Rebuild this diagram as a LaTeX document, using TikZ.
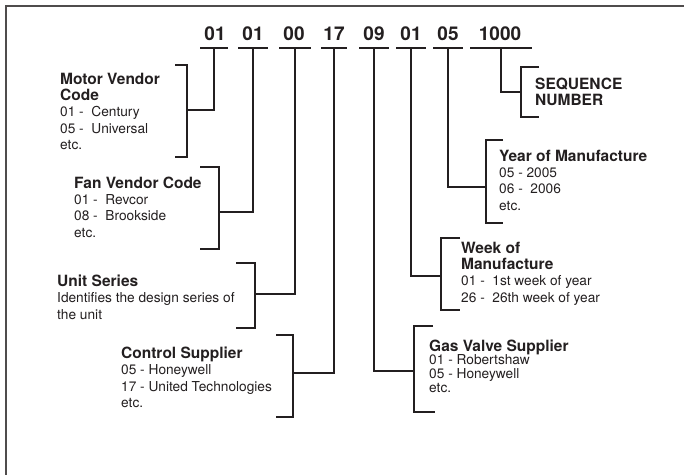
\documentclass[tikz,border=0pt]{standalone}
\usepackage{fontspec}
\setmainfont{TeX Gyre Heros}
\usepackage{tikz}
\definecolor{ink}{RGB}{35,31,32}
\newcommand{\headfont}{\bfseries\fontsize{15.5}{18.5}\selectfont}
\newcommand{\bodyfont}{\mdseries\fontsize{13.7}{16.4}\selectfont}

\begin{document}
\begin{tikzpicture}[x=1pt, y=-1pt,
  rule/.style={draw=ink, line width=1.8pt},
  digits/.style={anchor=base, inner sep=0pt, text=ink, font=\bfseries\fontsize{19}{20}\selectfont},
  lbl/.style={anchor=north west, inner sep=0pt, align=left, text=ink, font=\bodyfont}]
\useasboundingbox (0,0) rectangle (684,475);
\draw[ink!80, line width=1.6pt] (684,6) -- (6,6) -- (6,475);

\node[digits] (c1) at (215,40) {01};
\node[digits] (c2) at (253,40) {01};
\node[digits] (c3) at (294,40) {00};
\node[digits] (c4) at (334,40) {17};
\node[digits] (c5) at (374,40) {09};
\node[digits] (c6) at (411,40) {01};
\node[digits] (c7) at (448,40) {05};
\node[digits] (c8) at (500,40) {1000};

\coordinate (u1) at (214,48);
\coordinate (u2) at (253,48);
\coordinate (u3) at (295,48);
\coordinate (u4) at (334,48);
\coordinate (u5) at (374,48);
\coordinate (u6) at (411,48);
\coordinate (u7) at (448,48);
\coordinate (u8) at (501,48);

\draw[rule] (u1) ++(-14,0) -- ++(28,0);
\draw[rule] (u2) ++(-15,0) -- ++(30,0);
\draw[rule] (u3) ++(-16,0) -- ++(32,0);
\draw[rule] (u4) ++(-13,0) -- ++(26,0);
\draw[rule] (u5) ++(-15,0) -- ++(30,0);
\draw[rule] (u6) ++(-15,0) -- ++(30,0);
\draw[rule] (u7) ++(-15,0) -- ++(30,0);
\draw[rule] (u8) ++(-31,0) -- ++(62,0);

\coordinate (b1) at (187,110);
\coordinate (b2) at (219,212);
\coordinate (b3) at (255,294);
\coordinate (b4) at (293,373);
\coordinate (b5) at (414,371);
\coordinate (b6) at (441,276);
\coordinate (b7) at (486,187);
\coordinate (b8) at (521,92);

\draw[rule] (u1) |- (b1);
\draw[rule] (u2) |- (b2);
\draw[rule] (u3) |- (b3);
\draw[rule] (u4) |- (b4);
\draw[rule] (u5) |- (b5);
\draw[rule] (u6) |- (b6);
\draw[rule] (u7) |- (b7);
\draw[rule] (u8) |- (b8);

\draw[rule] (175,65) -| (b1) |- (175,157);
\draw[rule] (200,167) -| (b2) |- (200,249);
\draw[rule] (236,263) -| (b3) |- (236,328);
\draw[rule] (276,335) -| (b4) |- (276,417);
\draw[rule] (433,326) -| (b5) |- (435,412);
\draw[rule] (460,238) -| (b6) |- (460,310);
\draw[rule] (503,140) -| (b7) |- (503,223);
\draw[rule] (539,67) -| (b8) |- (539,117);

\node[lbl] (motor) at (60,72.5) {\headfont Motor Vendor\\ \headfont Code\\ 01 -\ \ Century\\ 05 -\ \ Universal\\ etc.};
\node[lbl] (fan) at (74,176.5) {\headfont Fan Vendor Code\\ 01 -\ \ Revcor\\ 08 -\ \ Brookside\\ etc.};
\node[lbl] (unit) at (57,274.5) {\headfont Unit Series\\ Identifies the design series of\\ the unit};
\node[lbl] (control) at (121,346.5) {\headfont Control Supplier\\ 05 - Honeywell\\ 17 - United Technologies\\ etc.};
\node[lbl, font=\fontsize{13.7}{13.6}\selectfont] (gas) at (429,339.5) {\headfont Gas Valve Supplier\\ 01 - Robertshaw\\ 05 - Honeywell\\ etc.};
\node[lbl] (week) at (461,241.5) {\headfont Week of\\ \headfont Manufacture\\ 01 -\ \ 1st week of year\\ 26 -\ \ 26th week of year};
\node[lbl] (year) at (499,149.5) {\headfont Year of Manufacture\\ 05 - 2005\\ 06 -\ \ 2006\\ etc.};
\node[lbl] (seq) at (535,77.5) {\headfont SEQUENCE\\ \headfont NUMBER};
\end{tikzpicture}
\end{document}
